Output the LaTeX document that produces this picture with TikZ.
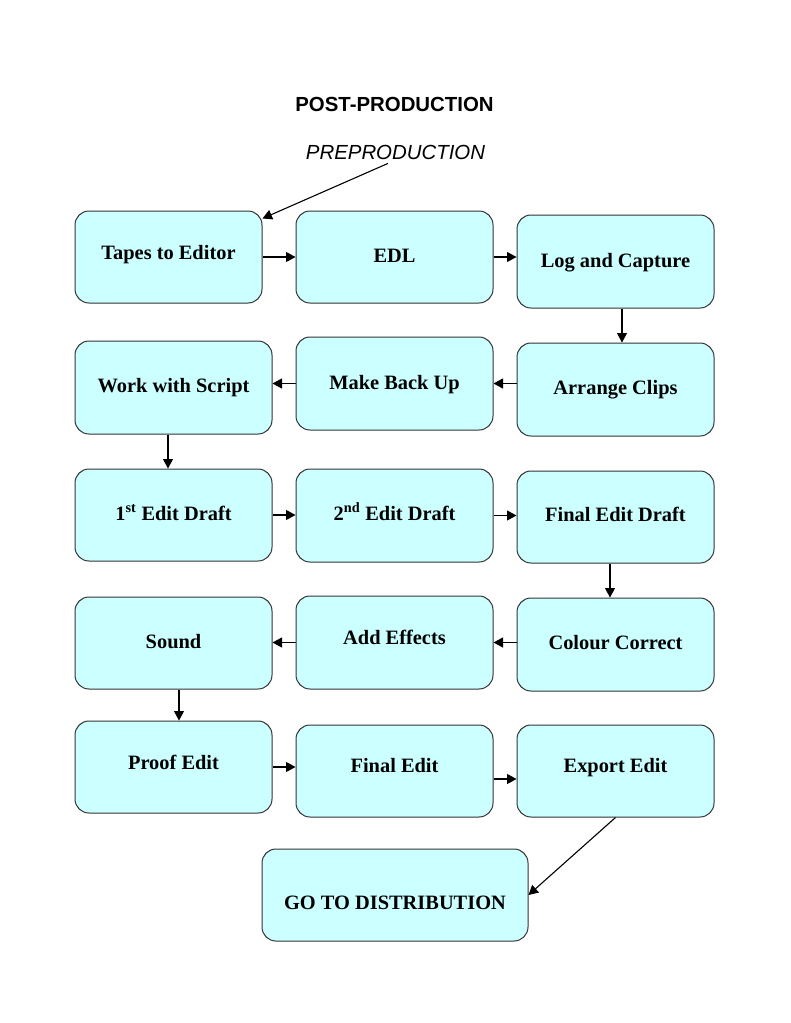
\documentclass[tikz,border=0pt]{standalone}
\usepackage{fontspec}
\setmainfont{Liberation Serif}
\newfontfamily\arialf{Liberation Sans}
\usetikzlibrary{arrows.meta,calc}
\definecolor{boxfill}{HTML}{CCFFFF}
\definecolor{boxline}{HTML}{333333}
\tikzset{
  stepbox/.style={draw=boxline, fill=boxfill, line width=1pt, rounded corners=14pt, inner sep=0pt},
  txt/.style={font=\fontsize{20.4}{24}\selectfont\bfseries, anchor=base, inner sep=0pt},
  arr/.style={line width=1.1pt, -{Triangle[length=9.5pt,width=10pt]}}
}
\newcommand{\bx}[8]{%
  \node[stepbox, minimum width=#4pt, minimum height=#5pt] (#1) at (#2,#3) {};
  \node[txt] (#1t) at (#6,#7) {#8};}
\begin{document}
\begin{tikzpicture}[x=1pt,y=-1pt]
\useasboundingbox (0,0) rectangle (791,1023);
\node[font=\arialf\fontsize{20.4}{24}\selectfont\bfseries, anchor=base, inner sep=0pt] (title) at (394.5,111) {POST-PRODUCTION};
\node[font=\arialf\fontsize{20.4}{24}\selectfont\itshape, anchor=base, inner sep=0pt] (pre) at (395.5,159) {PREPRODUCTION};
\bx{tapes}{168.5}{257}{187}{92}{168.5}{259}{Tapes to Editor}
\bx{edl}{394.5}{257}{197}{92}{394.5}{262}{EDL}
\bx{log}{615.5}{261.5}{197}{93}{615.5}{267}{Log and Capture}
\bx{work}{173.5}{387.5}{197}{93}{173.5}{392}{Work with Script}
\bx{mbu}{394.5}{383.5}{197}{93}{394.5}{389}{Make Back Up}
\bx{arrc}{615.5}{389.5}{197}{93}{615.5}{394}{Arrange Clips}
\bx{first}{173.5}{515}{197}{92}{173.5}{520}{1\textsuperscript{st} Edit Draft}
\bx{second}{394.5}{515.5}{197}{93}{394.5}{520}{2\textsuperscript{nd} Edit Draft}
\bx{fed}{615.5}{517}{197}{92}{615.5}{521}{Final Edit Draft}
\bx{sound}{173.5}{643}{197}{92}{173.5}{648}{Sound}
\bx{add}{394.5}{642.5}{197}{93}{394.5}{644}{Add Effects}
\bx{colour}{615.5}{644.5}{197}{93}{615.5}{649}{Colour Correct}
\bx{proof}{173.5}{767}{197}{92}{173.5}{769}{Proof Edit}
\bx{final}{394.5}{771}{197}{92}{394.5}{772}{Final Edit}
\bx{export}{615.5}{771}{197}{92}{615.5}{772}{Export Edit}
\bx{go}{395}{895}{266}{92}{395}{909}{GO TO DISTRIBUTION}
% connectors
\draw[arr] ($(pre.south)+(-7.5,4)$) -- ($(tapes.north east)+(0,8)$);
\draw[arr] (tapes.east) -- (tapes.east -| edl.west);
\draw[arr] (edl.east) -- (edl.east -| log.west);
\draw[arr] ($(log.south)+(6.5,0)$) -- ($(arrc.north)+(6.5,0)$);
\draw[arr] (arrc.west |- mbu.east) -- (mbu.east);
\draw[arr] (mbu.west) -- (mbu.west -| work.east);
\draw[arr] ($(work.south)+(-5.5,0)$) -- ($(first.north)+(-5.5,0)$);
\draw[arr] (first.east) -- (first.east -| second.west);
\draw[arr] (second.east) -- (second.east -| fed.west);
\draw[arr] ($(fed.south)+(-5.5,0)$) -- ($(colour.north)+(-5.5,0)$);
\draw[arr] (colour.west |- add.east) -- (add.east);
\draw[arr] (add.west) -- (add.west -| sound.east);
\draw[arr] ($(sound.south)+(5.5,0)$) -- ($(proof.north)+(5.5,0)$);
\draw[arr] (proof.east) -- (proof.east -| final.west);
\draw[arr] ($(final.east)+(0,8)$) -- ($(export.west)+(0,8)$);
\draw[arr] (export.south) -- (go.east);
\end{tikzpicture}
\end{document}
